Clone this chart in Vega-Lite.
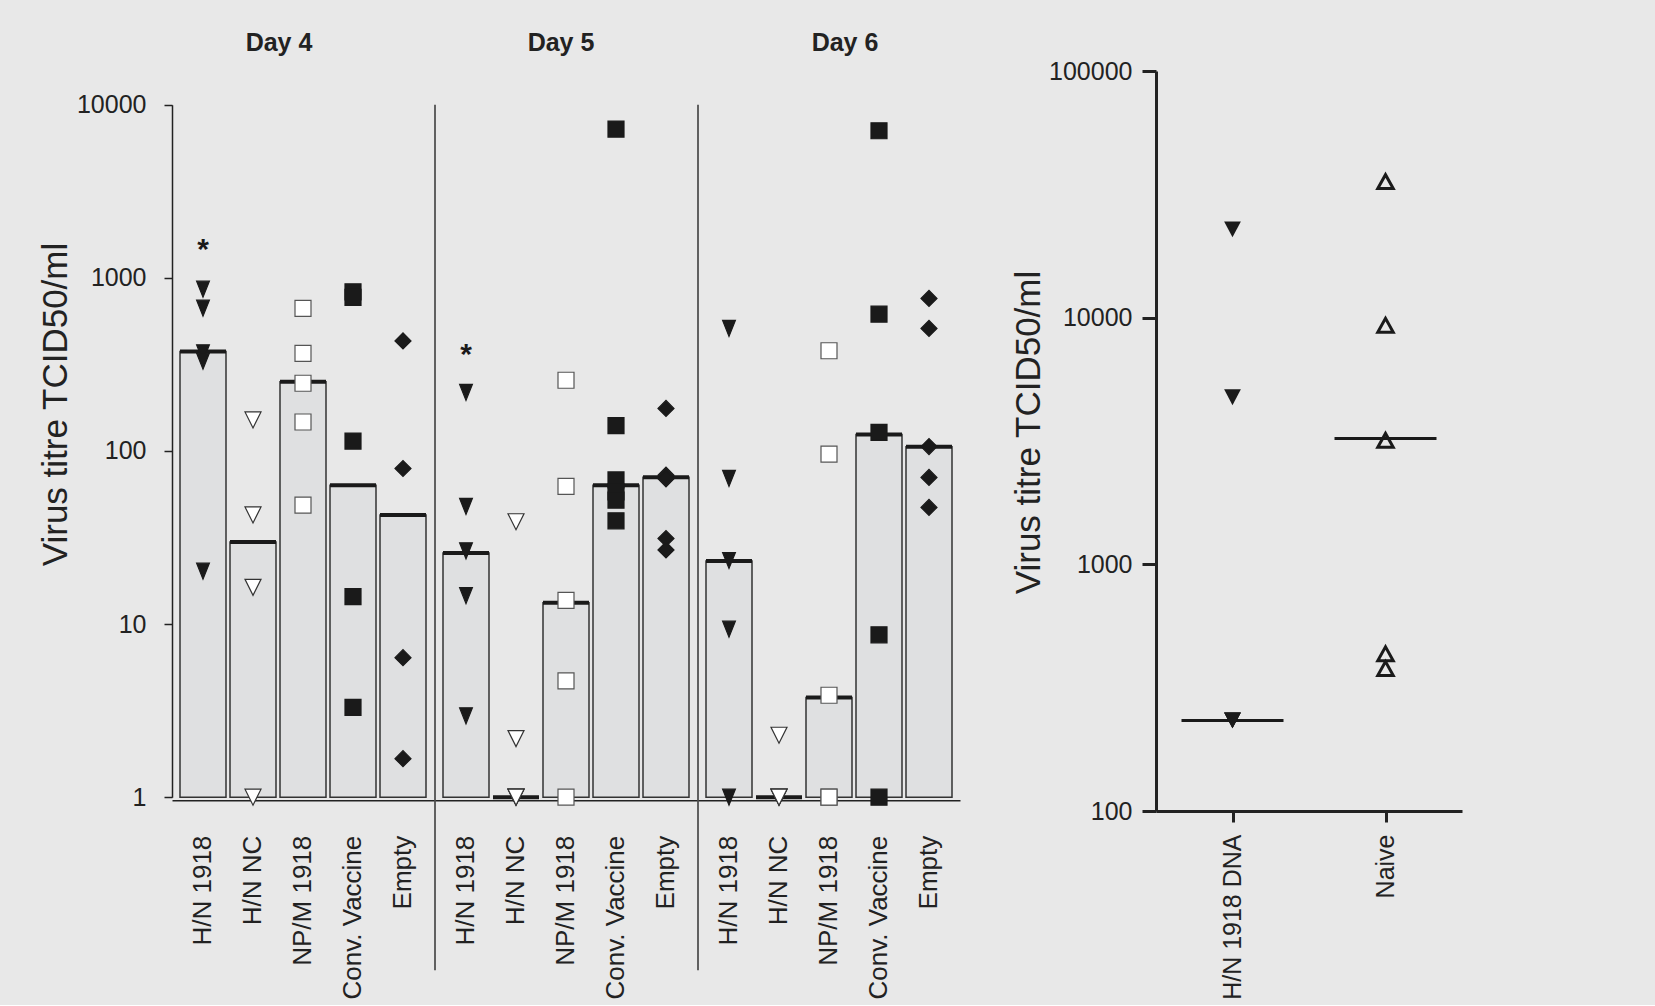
{
  "$schema": "https://vega.github.io/schema/vega-lite/v6.json",
  "background": "#e8e8e8",
  "padding": {"left": 38, "top": 31, "right": 195, "bottom": 5},
  "config": {
    "view": {"stroke": null},
    "font": "Liberation Sans",
    "axis": {"labelFont": "Liberation Sans", "titleFont": "Liberation Sans", "labelColor": "#222", "titleColor": "#222", "domainColor": "#222", "tickColor": "#222", "grid": false, "titleFontWeight": "normal"},
    "title": {"font": "Liberation Sans", "fontWeight": "bold", "fontSize": 25, "color": "#222", "baseline": "alphabetic", "offset": 15}
  },
  "datasets": {
    "pts": [
      {"day": "Day 4", "group": "H/N 1918", "titre": 860},
      {"day": "Day 4", "group": "H/N 1918", "titre": 668},
      {"day": "Day 4", "group": "H/N 1918", "titre": 369},
      {"day": "Day 4", "group": "H/N 1918", "titre": 330},
      {"day": "Day 4", "group": "H/N 1918", "titre": 20.2},
      {"day": "Day 4", "group": "H/N NC", "titre": 151},
      {"day": "Day 4", "group": "H/N NC", "titre": 42.7},
      {"day": "Day 4", "group": "H/N NC", "titre": 16.3},
      {"day": "Day 4", "group": "H/N NC", "titre": 1},
      {"day": "Day 4", "group": "NP/M 1918", "titre": 666},
      {"day": "Day 4", "group": "NP/M 1918", "titre": 366},
      {"day": "Day 4", "group": "NP/M 1918", "titre": 246},
      {"day": "Day 4", "group": "NP/M 1918", "titre": 147},
      {"day": "Day 4", "group": "NP/M 1918", "titre": 48.6},
      {"day": "Day 4", "group": "Conv. Vaccine", "titre": 830},
      {"day": "Day 4", "group": "Conv. Vaccine", "titre": 771},
      {"day": "Day 4", "group": "Conv. Vaccine", "titre": 114},
      {"day": "Day 4", "group": "Conv. Vaccine", "titre": 14.4},
      {"day": "Day 4", "group": "Conv. Vaccine", "titre": 3.3},
      {"day": "Day 4", "group": "Empty", "titre": 432},
      {"day": "Day 4", "group": "Empty", "titre": 79.2},
      {"day": "Day 4", "group": "Empty", "titre": 6.4},
      {"day": "Day 4", "group": "Empty", "titre": 1.67},
      {"day": "Day 5", "group": "H/N 1918", "titre": 218},
      {"day": "Day 5", "group": "H/N 1918", "titre": 47.8},
      {"day": "Day 5", "group": "H/N 1918", "titre": 26.5},
      {"day": "Day 5", "group": "H/N 1918", "titre": 14.6},
      {"day": "Day 5", "group": "H/N 1918", "titre": 2.95},
      {"day": "Day 5", "group": "H/N NC", "titre": 39},
      {"day": "Day 5", "group": "H/N NC", "titre": 2.18},
      {"day": "Day 5", "group": "H/N NC", "titre": 1},
      {"day": "Day 5", "group": "H/N NC", "titre": 1},
      {"day": "Day 5", "group": "H/N NC", "titre": 1},
      {"day": "Day 5", "group": "NP/M 1918", "titre": 256},
      {"day": "Day 5", "group": "NP/M 1918", "titre": 62.4},
      {"day": "Day 5", "group": "NP/M 1918", "titre": 13.7},
      {"day": "Day 5", "group": "NP/M 1918", "titre": 4.7},
      {"day": "Day 5", "group": "NP/M 1918", "titre": 1},
      {"day": "Day 5", "group": "Conv. Vaccine", "titre": 7230},
      {"day": "Day 5", "group": "Conv. Vaccine", "titre": 140},
      {"day": "Day 5", "group": "Conv. Vaccine", "titre": 68},
      {"day": "Day 5", "group": "Conv. Vaccine", "titre": 58},
      {"day": "Day 5", "group": "Conv. Vaccine", "titre": 52},
      {"day": "Day 5", "group": "Conv. Vaccine", "titre": 39.5},
      {"day": "Day 5", "group": "Empty", "titre": 176},
      {"day": "Day 5", "group": "Empty", "titre": 72.5},
      {"day": "Day 5", "group": "Empty", "titre": 69},
      {"day": "Day 5", "group": "Empty", "titre": 31.2},
      {"day": "Day 5", "group": "Empty", "titre": 26.8},
      {"day": "Day 6", "group": "H/N 1918", "titre": 510},
      {"day": "Day 6", "group": "H/N 1918", "titre": 69.4},
      {"day": "Day 6", "group": "H/N 1918", "titre": 23.3},
      {"day": "Day 6", "group": "H/N 1918", "titre": 9.35},
      {"day": "Day 6", "group": "H/N 1918", "titre": 1},
      {"day": "Day 6", "group": "H/N NC", "titre": 2.28},
      {"day": "Day 6", "group": "H/N NC", "titre": 1},
      {"day": "Day 6", "group": "H/N NC", "titre": 1},
      {"day": "Day 6", "group": "H/N NC", "titre": 1},
      {"day": "Day 6", "group": "NP/M 1918", "titre": 379},
      {"day": "Day 6", "group": "NP/M 1918", "titre": 95.8},
      {"day": "Day 6", "group": "NP/M 1918", "titre": 3.88},
      {"day": "Day 6", "group": "NP/M 1918", "titre": 1},
      {"day": "Day 6", "group": "NP/M 1918", "titre": 1},
      {"day": "Day 6", "group": "Conv. Vaccine", "titre": 7070},
      {"day": "Day 6", "group": "Conv. Vaccine", "titre": 617},
      {"day": "Day 6", "group": "Conv. Vaccine", "titre": 128},
      {"day": "Day 6", "group": "Conv. Vaccine", "titre": 8.67},
      {"day": "Day 6", "group": "Conv. Vaccine", "titre": 1},
      {"day": "Day 6", "group": "Empty", "titre": 760},
      {"day": "Day 6", "group": "Empty", "titre": 510},
      {"day": "Day 6", "group": "Empty", "titre": 106},
      {"day": "Day 6", "group": "Empty", "titre": 70.3},
      {"day": "Day 6", "group": "Empty", "titre": 47.2}
    ],
    "med": [
      {"day": "Day 4", "group": "H/N 1918", "median": 375},
      {"day": "Day 4", "group": "H/N NC", "median": 29.8},
      {"day": "Day 4", "group": "NP/M 1918", "median": 251},
      {"day": "Day 4", "group": "Conv. Vaccine", "median": 63.4},
      {"day": "Day 4", "group": "Empty", "median": 42.6},
      {"day": "Day 5", "group": "H/N 1918", "median": 25.7},
      {"day": "Day 5", "group": "H/N NC", "median": 1},
      {"day": "Day 5", "group": "NP/M 1918", "median": 13.3},
      {"day": "Day 5", "group": "Conv. Vaccine", "median": 63.4},
      {"day": "Day 5", "group": "Empty", "median": 70.6},
      {"day": "Day 6", "group": "H/N 1918", "median": 23.1},
      {"day": "Day 6", "group": "H/N NC", "median": 1},
      {"day": "Day 6", "group": "NP/M 1918", "median": 3.77},
      {"day": "Day 6", "group": "Conv. Vaccine", "median": 124.5},
      {"day": "Day 6", "group": "Empty", "median": 105.6}
    ],
    "stars": [
      {"day": "Day 4", "group": "H/N 1918", "titre": 1610, "mark": "*"},
      {"day": "Day 5", "group": "H/N 1918", "titre": 396, "mark": "*"}
    ],
    "seps": [
      {"day": "Day 5"},
      {"day": "Day 6"}
    ],
    "right": [
      {"group": "H/N 1918 DNA", "titre": 22800},
      {"group": "H/N 1918 DNA", "titre": 4760},
      {"group": "H/N 1918 DNA", "titre": 233},
      {"group": "H/N 1918 DNA", "titre": 233},
      {"group": "H/N 1918 DNA", "titre": 233},
      {"group": "Naive", "titre": 35600},
      {"group": "Naive", "titre": 9310},
      {"group": "Naive", "titre": 3180},
      {"group": "Naive", "titre": 434},
      {"group": "Naive", "titre": 378}
    ],
    "rightMed": [
      {"group": "H/N 1918 DNA", "median": 233},
      {"group": "Naive", "median": 3240}
    ]
  },
  "spacing": 51,
  "hconcat": [
    {
      "spacing": 0,
      "hconcat": [
        {
          "width": 262, "height": 726.2,
          "title": {"text": "Day 4", "dx": -24},
          "layer": [
            {
              "data": {"name": "med"},
              "transform": [{"filter": "datum.day === 'Day 4'"}],
              "mark": {"type": "bar", "fill": "#dfe0e1", "stroke": "#333", "strokeWidth": 1.5},
              "encoding": {
                "x": {"field": "group", "type": "nominal", "scale": {"domain": ["H/N 1918", "H/N NC", "NP/M 1918", "Conv. Vaccine", "Empty"], "paddingInner": 0.08, "paddingOuter": 0.16}, "axis": {"title": null, "labelAngle": -90, "labelFontSize": 26, "ticks": false, "labelPadding": 35, "offset": 3, "domainWidth": 1.5}},
                "y": {"field": "median", "type": "quantitative", "scale": {"type": "log", "domain": [1, 10000], "range": [726.2, 33.7]}, "axis": {"title": "Virus titre TCID50/ml", "titleFontSize": 35, "titlePadding": 3, "titleY": 333, "labelFontSize": 25, "tickSize": 8, "labelPadding": 18, "values": [1, 10, 100, 1000, 10000], "format": "d", "domainWidth": 1.5, "tickWidth": 1.5}},
                "y2": {"datum": 1}
              }
            },
            {
              "data": {"name": "med"},
              "transform": [{"filter": "datum.day === 'Day 4'"}],
              "mark": {"type": "tick", "color": "#1a1a1a", "thickness": 4, "size": 46, "opacity": 1},
              "encoding": {
                "x": {"field": "group", "type": "nominal"},
                "y": {"field": "median", "type": "quantitative"}
              }
            },
            {
              "data": {"name": "pts"},
              "transform": [{"filter": "datum.day === 'Day 4'"}],
              "mark": {"type": "point", "opacity": 1, "fillOpacity": 1, "strokeWidth": 1.2},
              "encoding": {
                "x": {"field": "group", "type": "nominal"},
                "y": {"field": "titre", "type": "quantitative"},
                "shape": {"field": "group", "type": "nominal", "scale": {"domain": ["H/N 1918", "H/N NC", "NP/M 1918", "Conv. Vaccine", "Empty"], "range": ["M-0.8,-1L0.8,-1L0,1Z", "M-1,-1L1,-1L0,1Z", "square", "square", "diamond"]}, "legend": null},
                "fill": {"field": "group", "type": "nominal", "scale": {"domain": ["H/N 1918", "H/N NC", "NP/M 1918", "Conv. Vaccine", "Empty"], "range": ["#1a1a1a", "#ffffff", "#ffffff", "#1a1a1a", "#1a1a1a"]}, "legend": null},
                "stroke": {"field": "group", "type": "nominal", "scale": {"domain": ["H/N 1918", "H/N NC", "NP/M 1918", "Conv. Vaccine", "Empty"], "range": ["#1a1a1a", "#333333", "#555555", "#1a1a1a", "#1a1a1a"]}, "legend": null},
                "size": {"field": "group", "type": "nominal", "scale": {"domain": ["H/N 1918", "H/N NC", "NP/M 1918", "Conv. Vaccine", "Empty"], "range": [256, 256, 150, 170, 256]}, "legend": null}
              }
            },
            {
              "data": {"name": "stars"},
              "transform": [{"filter": "datum.day === 'Day 4'"}],
              "mark": {"type": "text", "fontSize": 30, "fontWeight": "bold", "color": "#1a1a1a", "baseline": "alphabetic", "dy": 17},
              "encoding": {
                "x": {"field": "group", "type": "nominal"},
                "y": {"field": "titre", "type": "quantitative"},
                "text": {"field": "mark"}
              }
            }
          ]
        },
        {
          "width": 262, "height": 726.2,
          "title": {"text": "Day 5", "dx": -5},
          "layer": [
            {
              "data": {"name": "med"},
              "transform": [{"filter": "datum.day === 'Day 5'"}],
              "mark": {"type": "bar", "fill": "#dfe0e1", "stroke": "#333", "strokeWidth": 1.5},
              "encoding": {
                "x": {"field": "group", "type": "nominal", "scale": {"domain": ["H/N 1918", "H/N NC", "NP/M 1918", "Conv. Vaccine", "Empty"], "paddingInner": 0.08, "paddingOuter": 0.16}, "axis": {"title": null, "labelAngle": -90, "labelFontSize": 26, "ticks": false, "labelPadding": 35, "offset": 3, "domainWidth": 1.5}},
                "y": {"field": "median", "type": "quantitative", "scale": {"type": "log", "domain": [1, 10000], "range": [726.2, 33.7]}, "axis": null},
                "y2": {"datum": 1}
              }
            },
            {
              "data": {"name": "seps"},
              "transform": [{"filter": "datum.day === 'Day 5'"}],
              "mark": {"type": "rule", "color": "#333", "strokeWidth": 1.5},
              "encoding": {
                "x": {"datum": "H/N 1918", "bandPosition": -0.1739},
                "y": {"datum": 10000, "type": "quantitative"},
                "y2": {"datum": 0.1}
              }
            },
            {
              "data": {"name": "med"},
              "transform": [{"filter": "datum.day === 'Day 5'"}],
              "mark": {"type": "tick", "color": "#1a1a1a", "thickness": 4, "size": 46, "opacity": 1},
              "encoding": {
                "x": {"field": "group", "type": "nominal"},
                "y": {"field": "median", "type": "quantitative"}
              }
            },
            {
              "data": {"name": "pts"},
              "transform": [{"filter": "datum.day === 'Day 5'"}],
              "mark": {"type": "point", "opacity": 1, "fillOpacity": 1, "strokeWidth": 1.2},
              "encoding": {
                "x": {"field": "group", "type": "nominal"},
                "y": {"field": "titre", "type": "quantitative"},
                "shape": {"field": "group", "type": "nominal", "scale": {"domain": ["H/N 1918", "H/N NC", "NP/M 1918", "Conv. Vaccine", "Empty"], "range": ["M-0.8,-1L0.8,-1L0,1Z", "M-1,-1L1,-1L0,1Z", "square", "square", "diamond"]}, "legend": null},
                "fill": {"field": "group", "type": "nominal", "scale": {"domain": ["H/N 1918", "H/N NC", "NP/M 1918", "Conv. Vaccine", "Empty"], "range": ["#1a1a1a", "#ffffff", "#ffffff", "#1a1a1a", "#1a1a1a"]}, "legend": null},
                "stroke": {"field": "group", "type": "nominal", "scale": {"domain": ["H/N 1918", "H/N NC", "NP/M 1918", "Conv. Vaccine", "Empty"], "range": ["#1a1a1a", "#333333", "#555555", "#1a1a1a", "#1a1a1a"]}, "legend": null},
                "size": {"field": "group", "type": "nominal", "scale": {"domain": ["H/N 1918", "H/N NC", "NP/M 1918", "Conv. Vaccine", "Empty"], "range": [256, 256, 150, 170, 256]}, "legend": null}
              }
            },
            {
              "data": {"name": "stars"},
              "transform": [{"filter": "datum.day === 'Day 5'"}],
              "mark": {"type": "text", "fontSize": 30, "fontWeight": "bold", "color": "#1a1a1a", "baseline": "alphabetic", "dy": 17},
              "encoding": {
                "x": {"field": "group", "type": "nominal"},
                "y": {"field": "titre", "type": "quantitative"},
                "text": {"field": "mark"}
              }
            }
          ]
        },
        {
          "width": 262, "height": 726.2,
          "title": {"text": "Day 6", "dx": 16},
          "layer": [
            {
              "data": {"name": "med"},
              "transform": [{"filter": "datum.day === 'Day 6'"}],
              "mark": {"type": "bar", "fill": "#dfe0e1", "stroke": "#333", "strokeWidth": 1.5},
              "encoding": {
                "x": {"field": "group", "type": "nominal", "scale": {"domain": ["H/N 1918", "H/N NC", "NP/M 1918", "Conv. Vaccine", "Empty"], "paddingInner": 0.08, "paddingOuter": 0.16}, "axis": {"title": null, "labelAngle": -90, "labelFontSize": 26, "ticks": false, "labelPadding": 35, "offset": 3, "domainWidth": 1.5}},
                "y": {"field": "median", "type": "quantitative", "scale": {"type": "log", "domain": [1, 10000], "range": [726.2, 33.7]}, "axis": null},
                "y2": {"datum": 1}
              }
            },
            {
              "data": {"name": "seps"},
              "transform": [{"filter": "datum.day === 'Day 6'"}],
              "mark": {"type": "rule", "color": "#333", "strokeWidth": 1.5},
              "encoding": {
                "x": {"datum": "H/N 1918", "bandPosition": -0.1739},
                "y": {"datum": 10000, "type": "quantitative"},
                "y2": {"datum": 0.1}
              }
            },
            {
              "data": {"name": "med"},
              "transform": [{"filter": "datum.day === 'Day 6'"}],
              "mark": {"type": "tick", "color": "#1a1a1a", "thickness": 4, "size": 46, "opacity": 1},
              "encoding": {
                "x": {"field": "group", "type": "nominal"},
                "y": {"field": "median", "type": "quantitative"}
              }
            },
            {
              "data": {"name": "pts"},
              "transform": [{"filter": "datum.day === 'Day 6'"}],
              "mark": {"type": "point", "opacity": 1, "fillOpacity": 1, "strokeWidth": 1.2},
              "encoding": {
                "x": {"field": "group", "type": "nominal"},
                "y": {"field": "titre", "type": "quantitative"},
                "shape": {"field": "group", "type": "nominal", "scale": {"domain": ["H/N 1918", "H/N NC", "NP/M 1918", "Conv. Vaccine", "Empty"], "range": ["M-0.8,-1L0.8,-1L0,1Z", "M-1,-1L1,-1L0,1Z", "square", "square", "diamond"]}, "legend": null},
                "fill": {"field": "group", "type": "nominal", "scale": {"domain": ["H/N 1918", "H/N NC", "NP/M 1918", "Conv. Vaccine", "Empty"], "range": ["#1a1a1a", "#ffffff", "#ffffff", "#1a1a1a", "#1a1a1a"]}, "legend": null},
                "stroke": {"field": "group", "type": "nominal", "scale": {"domain": ["H/N 1918", "H/N NC", "NP/M 1918", "Conv. Vaccine", "Empty"], "range": ["#1a1a1a", "#333333", "#555555", "#1a1a1a", "#1a1a1a"]}, "legend": null},
                "size": {"field": "group", "type": "nominal", "scale": {"domain": ["H/N 1918", "H/N NC", "NP/M 1918", "Conv. Vaccine", "Empty"], "range": [256, 256, 150, 250, 256]}, "legend": null}
              }
            }
          ]
        }
      ]
    },
    {
      "width": 306, "height": 740,
      "layer": [
        {
          "data": {"name": "rightMed"},
          "mark": {"type": "tick", "color": "#1a1a1a", "thickness": 3, "size": 102, "opacity": 1},
          "encoding": {
            "x": {"field": "group", "type": "nominal", "scale": {"type": "point", "domain": ["H/N 1918 DNA", "Naive"], "padding": 0.5}, "axis": {"title": null, "labelAngle": -90, "labelFontSize": 25, "tickSize": 11, "tickWidth": 3, "domainWidth": 3, "labelPadding": 12}},
            "y": {"field": "median", "type": "quantitative", "scale": {"type": "log", "domain": [100, 100000]}, "axis": {"title": "Virus titre TCID50/ml", "titleFontSize": 35, "titlePadding": 2, "titleY": 361, "labelFontSize": 25, "tickSize": 14, "tickWidth": 3, "domainWidth": 3, "labelPadding": 10, "values": [100, 1000, 10000, 100000], "format": "d"}}
          }
        },
        {
          "data": {"name": "right"},
          "transform": [{"filter": "datum.group === 'H/N 1918 DNA'"}],
          "mark": {"type": "point", "shape": "M-1,-0.95L1,-0.95L0,0.95Z", "size": 280, "filled": true, "color": "#1a1a1a", "opacity": 1},
          "encoding": {
            "x": {"field": "group", "type": "nominal"},
            "y": {"field": "titre", "type": "quantitative"}
          }
        },
        {
          "data": {"name": "right"},
          "transform": [{"filter": "datum.group === 'Naive'"}],
          "mark": {"type": "point", "shape": "M-1,0.9L1,0.9L0,-0.9Z", "size": 240, "filled": false, "fill": "transparent", "stroke": "#1a1a1a", "strokeWidth": 3, "opacity": 1},
          "encoding": {
            "x": {"field": "group", "type": "nominal"},
            "y": {"field": "titre", "type": "quantitative"}
          }
        }
      ]
    }
  ]
}
